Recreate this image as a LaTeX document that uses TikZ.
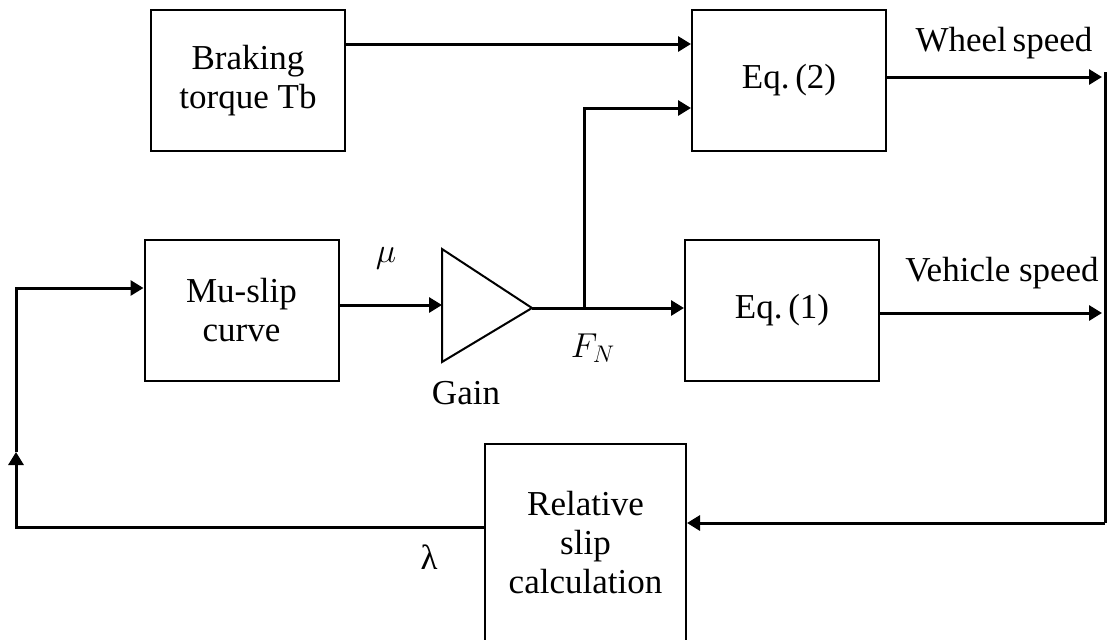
\documentclass[tikz,border=0pt]{standalone}
\usepackage{fontspec}
\setmainfont{Liberation Serif}
\usetikzlibrary{arrows.meta,calc}

\tikzset{
  block/.style={draw, line width=1pt, minimum width=97pt, minimum height=70.5pt,
    align=center, inner sep=0pt},
  sig/.style={line width=1.5pt, -{Triangle[length=6.5pt,width=7.5pt]}},
  wire/.style={line width=1.5pt},
  lbl/.style={inner sep=0pt},
}

\begin{document}
\begin{tikzpicture}[x=0.5pt, y=-0.5pt, font=\fontsize{17.5}{19.5}\selectfont]
\useasboundingbox (0,0) rectangle (1110,639);
% blocks
\node[block] (brake) at (248,80.5) {Braking\\torque Tb};
\node[block] (eqtwo) at (789,80.5) {Eq.\,(2)};
\node[block] (muslip) at (241.5,310) {Mu-slip\\curve};
\node[block] (eqone) at (782,310) {Eq.\,(1)};
\node[block, minimum width=100.5pt, minimum height=99pt] (relslip) at (585.5,543) {Relative\\slip\\calculation};
% gain
\draw[line width=1pt] (442,249) -- (532,308) -- (442,362) -- cycle;
\coordinate (gainin) at (442,305);
\coordinate (gainout) at (532,308);
\node[lbl] (gainlbl) at (466,393) {Gain};
% helper points
\coordinate (branch) at (584,308);
\coordinate (wtop) at (1105,72);
\coordinate (wbot) at (1105,523);
\coordinate (fbl) at (16,527);
\coordinate (fbm) at (16,452);
\coordinate (fbt) at (16,288);
% connectors
\draw[sig] (brake.east |- 0,44) -- (eqtwo.west |- 0,44);
\draw[sig] (muslip.east |- gainin) -- (gainin);
\draw[sig] (gainout) -- (eqone.west |- gainout);
\draw[sig] (branch) |- (eqtwo.west |- 0,108);
\draw[sig] (eqtwo.east |- 0,77) -- (1102,77);
\draw[sig] (eqone.east |- 0,313) -- (1102,313);
\draw[wire] (wtop) -- (wbot);
\draw[sig] (wbot) -- (relslip.east |- wbot);
\draw[sig] (relslip.west |- fbl) -- (fbl) -- (fbm);
\draw[sig] (fbm) -- (fbt) -- (muslip.west |- fbt);
% signal labels
\node[lbl] (mulbl) at (386,258) {$\mu$};
\node[lbl] (fnlbl) at (593,348) {$F_N$};
\node[lbl] (lamlbl) at (429,557) {λ};
\node[lbl] (wheellbl) at (1004,43) {Wheel\,speed};
\node[lbl] (vehlbl) at (1002,273) {Vehicle speed};
\end{tikzpicture}
\end{document}
